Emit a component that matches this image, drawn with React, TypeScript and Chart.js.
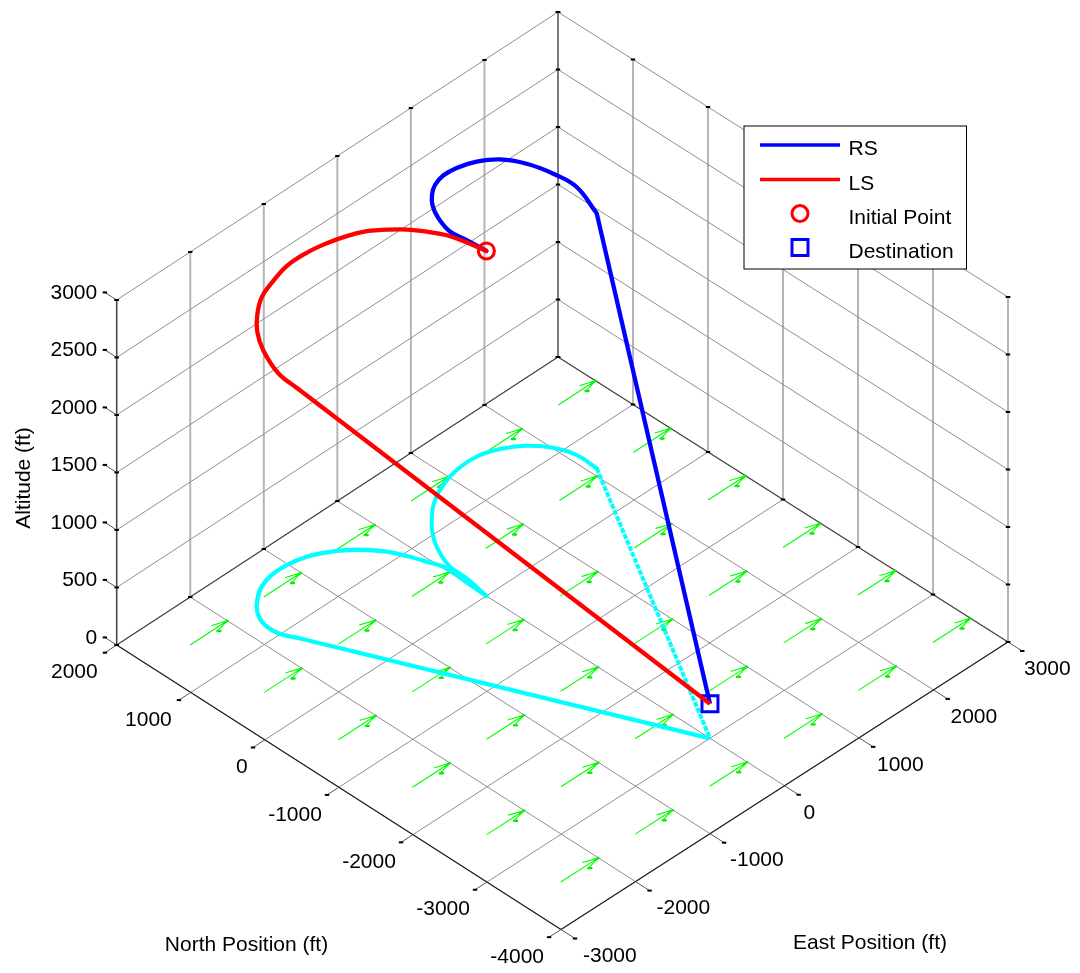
import React, { useEffect, useRef } from "react";
import { Chart, registerables } from "chart.js";

Chart.register(...registerables);

const northTicks = [-4000, -3000, -2000, -1000, 0, 1000, 2000];
const eastTicks = [-3000, -2000, -1000, 0, 1000, 2000, 3000];
const altTicks = [0, 500, 1000, 1500, 2000, 2500, 3000];

const lsNorth = [0, 322, 557, 762, 956, 1137, 1280, 1426, 1538, 1628, 1677, 1676, 1622, 1513, 1391, 1229, 1022, 837, -3000];
const lsEast = [0, 13, 25, -40, -114, -203, -309, -454, -612, -793, -1015, -1220, -1411, -1581, -1704, -1786, -1790, -1705, 0];
const lsAlt = [3000, 2948, 2896, 2870, 2839, 2800, 2774, 2730, 2687, 2643, 2600, 2539, 2515, 2478, 2435, 2374, 2261, 2165, 300];

const rsNorth = [0, 317, 552, 805, 999, 1212, 1348, 1448, 1513, 1516, 1437, 1291, 1090, 857, 583, -3000];
const rsEast = [0, 53, 63, 161, 282, 487, 666, 879, 1128, 1402, 1639, 1853, 2010, 2090, 2084, 0];
const rsAlt = [3000, 2941, 2915, 2887, 2860, 2783, 2739, 2691, 2626, 2565, 2519, 2452, 2383, 2330, 2217, 300];

const windNorth = [-3500, -2500, -1500, -500, 500, 1500];
const windEast = [-2500, -1500, -500, 500, 1500, 2500];
const windDeltaEast = 500;
const barbA = [57, -154];
const barbB = [-40, -175];
const barbHook = [-60, -155];
const tipBlob = [0, -45];

const initialPoint = { north: 0, east: 0, alt: 3000 };
const destination = { north: -3000, east: 0, alt: 300 };

const legendLabels = ["RS", "LS", "Initial Point", "Destination"];
const northTitle = "North Position (ft)";
const eastTitle = "East Position (ft)";
const altTitle = "Altitude (ft)";

const FONT = "21px 'Liberation Sans', Arial, sans-serif";

// Oblique view of the box: corners of the floor on the page, then altitude scale
function project(north: number, east: number, alt: number) {
  const a = (east + 3000) / 6000;
  const b = (north + 4000) / 6000;
  return {
    x: 561 + 447 * a - 444.3 * b - 5.7 * a * b,
    y: 929.5 - 287.5 * a - 284.5 * b - 0.5 * a * b - alt * 0.115,
  };
}

type P = { x: number | null; y: number | null };
function segments(list: [number[], number[]][]): P[] {
  const out: P[] = [];
  for (const [p, q] of list) {
    out.push(project(p[0], p[1], p[2]), project(q[0], q[1], q[2]), { x: null, y: null });
  }
  return out;
}
function path(n: number[], e: number[], h: number[] | null): P[] {
  return n.map((v, i) => project(v, e[i], h ? h[i] : 0));
}
function lineSet(data: P[], color: string, width: number, order: number, label = "", tension = 0) {
  return {
    label,
    data,
    showLine: true,
    spanGaps: false,
    borderColor: color,
    backgroundColor: color,
    borderWidth: width,
    pointRadius: 0,
    order,
    borderJoinStyle: "round",
    borderCapStyle: "round",
    tension,
  };
}
// the turn is curved, the final leg is straight
function flight(pts: P[], color: string, order: number, label = "", width = 4.3, dash: number[] = []) {
  const k = pts.length - 1;
  return [
    lineSet(pts.slice(0, k), color, width, order, label, 0.4),
    { ...lineSet(pts.slice(k - 1), color, width, order), borderDash: dash, borderCapStyle: "butt" },
  ];
}

const NMIN = northTicks[0];
const NMAX = northTicks[northTicks.length - 1];
const EMIN = eastTicks[0];
const EMAX = eastTicks[eastTicks.length - 1];
const AMAX = altTicks[altTicks.length - 1];

function buildDatasets() {
  const floor: [number[], number[]][] = [];
  northTicks.forEach((n) => floor.push([[n, EMIN, 0], [n, EMAX, 0]]));
  eastTicks.forEach((e) => floor.push([[NMIN, e, 0], [NMAX, e, 0]]));

  const wallH: [number[], number[]][] = [];
  altTicks.slice(1).forEach((h) => {
    wallH.push([[NMAX, EMIN, h], [NMAX, EMAX, h]]);
    wallH.push([[NMAX, EMAX, h], [NMIN, EMAX, h]]);
  });

  const wallV: [number[], number[]][] = [];
  eastTicks.slice(1, -1).forEach((e) => wallV.push([[NMAX, e, 0], [NMAX, e, AMAX]]));
  northTicks.slice(0, -1).forEach((n) => wallV.push([[n, EMAX, 0], [n, EMAX, AMAX]]));

  const backEdge: [number[], number[]][] = [[[NMAX, EMAX, 0], [NMAX, EMAX, AMAX]]];
  const dark: [number[], number[]][] = [
    [[NMAX, EMIN, 0], [NMAX, EMAX, 0]],
    [[NMAX, EMAX, 0], [NMIN, EMAX, 0]],
  ];
  const zAxis: [number[], number[]][] = [[[NMAX, EMIN, 0], [NMAX, EMIN, AMAX]]];
  const axes: [number[], number[]][] = [
    [[NMIN, EMIN, 0], [NMAX, EMIN, 0]],
    [[NMIN, EMIN, 0], [NMIN, EMAX, 0]],
  ];

  const ticks: [number[], number[]][] = [];
  const blobs: P[] = [];
  northTicks.forEach((n) => {
    ticks.push([[n, EMIN, 0], [n, EMIN - 160, 0]]);
    blobs.push(project(n, EMIN - 160, 0));
  });
  eastTicks.forEach((e) => {
    ticks.push([[NMIN, e, 0], [NMIN - 190, e, 0]]);
    blobs.push(project(NMIN - 190, e, 0));
  });
  altTicks.forEach((h) => {
    ticks.push([[NMAX, EMIN, h], [NMAX + 160, EMIN, h]]);
    blobs.push(project(NMAX + 160, EMIN, h));
  });

  eastTicks.forEach((e) => {
    blobs.push(project(NMAX, e, 0), project(NMAX, e, AMAX));
  });
  northTicks.forEach((n) => {
    blobs.push(project(n, EMAX, 0), project(n, EMAX, AMAX));
  });
  altTicks.forEach((h) => {
    blobs.push(project(NMAX, EMAX, h), project(NMIN, EMAX, h), project(NMAX, EMIN, h));
  });

  const arrows: [number[], number[]][] = [];
  const arrowBlobs: [number[], number[]][] = [];
  windNorth.forEach((n) =>
    windEast.forEach((e) => {
      const tip = [n, e + windDeltaEast, 0];
      arrows.push([[n, e, 0], tip]);
      arrows.push([tip, [tip[0] + barbA[0], tip[1] + barbA[1], 0]]);
      arrows.push([tip, [tip[0] + barbB[0], tip[1] + barbB[1], 0]]);
      arrowBlobs.push([
        [tip[0] + barbB[0], tip[1] + barbB[1], 0],
        [tip[0] + barbHook[0], tip[1] + barbHook[1], 0],
      ]);
      arrowBlobs.push([tip, [tip[0] + tipBlob[0], tip[1] + tipBlob[1], 0]]);
    })
  );

  const circle = {
    label: legendLabels[2],
    data: [project(initialPoint.north, initialPoint.east, initialPoint.alt)],
    showLine: false,
    pointStyle: "circle",
    pointRadius: 8,
    pointBorderWidth: 3,
    pointBorderColor: "#ff0000",
    pointBackgroundColor: "rgba(0,0,0,0)",
    order: 3,
  };
  const square = {
    label: legendLabels[3],
    data: [project(destination.north, destination.east, destination.alt)],
    showLine: false,
    pointStyle: "rect",
    pointRadius: 11.3,
    pointBorderWidth: 3,
    pointBorderColor: "#0000ff",
    pointBackgroundColor: "rgba(0,0,0,0)",
    order: 2,
  };
  return [
    lineSet(segments(wallV), "#b6b6b6", 2, 15),
    lineSet(segments(backEdge), "#7a7a7a", 2, 14),
    lineSet(segments(wallH), "#8e8e8e", 1, 13),
    lineSet(segments(floor), "#8e8e8e", 1, 12),
    lineSet(segments(dark), "#4a4a4a", 1.2, 11),
    lineSet(segments(zAxis), "#4a4a4a", 1.6, 10),
    lineSet(segments(axes), "#222222", 1.2, 10),
    lineSet(segments(ticks), "#555555", 1, 9),
    {
      ...lineSet(blobs, "#000000", 0, 8),
      showLine: false,
      pointStyle: "line",
      pointRadius: 2.2,
      pointBorderWidth: 2,
      pointBorderColor: "#000000",
    },
    lineSet(segments(arrows), "#00ff00", 1.1, 7),
    lineSet(segments(arrowBlobs), "#00ee00", 2.4, 7),
    ...flight(path(lsNorth, lsEast, null), "#00ffff", 6),
    ...flight(path(rsNorth, rsEast, null), "#00ffff", 6, "", 4, [5, 1.5]),
    ...flight(path(rsNorth, rsEast, rsAlt), "#0000ff", 4, legendLabels[0]),
    square,
    ...flight(path(lsNorth, lsEast, lsAlt), "#ff0000", 1, legendLabels[1]),
    circle,
  ];
}

const textPlugin = {
  id: "box3dText",
  afterDraw(chart: any) {
    const c = chart.ctx;
    c.save();
    c.font = FONT;
    c.fillStyle = "#000000";
    c.textBaseline = "middle";

    c.textAlign = "right";
    altTicks.forEach((h) => {
      const p = project(NMAX, EMIN, h);
      c.fillText(String(h), p.x - 19.5, p.y - 7);
    });
    northTicks.forEach((n) => {
      const p = project(n, EMIN, 0);
      c.fillText(String(n), p.x - (n > 500 ? 19 : 17), p.y + 27.5);
    });
    c.textAlign = "left";
    eastTicks.forEach((e) => {
      const p = project(NMIN, e, 0);
      c.fillText(String(e), p.x + 22 - ((e - EMIN) / (EMAX - EMIN)) * 6, p.y + 27);
    });

    c.textAlign = "center";
    c.fillText(northTitle, 246.5, 945);
    c.fillText(eastTitle, 870, 943.5);
    c.save();
    c.translate(24, 478);
    c.rotate(-Math.PI / 2);
    c.fillText(altTitle, 0, 0);
    c.restore();

    // legend box
    const L = 744, T = 126, R = 966.5, B = 269;
    c.fillStyle = "#ffffff";
    c.fillRect(L, T, R - L, B - T);
    c.strokeStyle = "#000000";
    c.lineWidth = 1;
    c.strokeRect(L, T, R - L, B - T);
    const rows = [145, 179.5, 213.5, 247.5];
    c.lineWidth = 3.5;
    c.strokeStyle = "#0000ff";
    c.beginPath(); c.moveTo(760, rows[0]); c.lineTo(840, rows[0]); c.stroke();
    c.strokeStyle = "#ff0000";
    c.beginPath(); c.moveTo(760, rows[1]); c.lineTo(840, rows[1]); c.stroke();
    c.lineWidth = 3;
    c.beginPath(); c.arc(800, rows[2], 8, 0, Math.PI * 2); c.stroke();
    c.strokeStyle = "#0000ff";
    c.strokeRect(792, rows[3] - 8, 16, 16);
    c.fillStyle = "#000000";
    c.textAlign = "left";
    legendLabels.forEach((t, i) => c.fillText(t, 848.5, rows[i] + 4.5));
    c.restore();
  },
};

export default function App() {
  const ref = useRef<HTMLCanvasElement | null>(null);
  useEffect(() => {
    document.body.style.margin = "0";
    const chart = new Chart(ref.current as HTMLCanvasElement, {
      type: "scatter",
      data: { datasets: buildDatasets() as any },
      options: {
        responsive: false,
        animation: false,
        events: [],
        layout: { padding: 0, autoPadding: false },
        plugins: { legend: { display: false }, tooltip: { enabled: false }, title: { display: false } },
        scales: {
          x: { type: "linear", display: false, min: 0, max: 1080 },
          y: { type: "linear", display: false, min: 0, max: 973, reverse: true },
        },
      },
      plugins: [textPlugin],
    });
    return () => chart.destroy();
  }, []);
  return (
    <canvas
      ref={ref}
      width={1080}
      height={973}
      style={{ display: "block", position: "absolute", left: 0, top: 0, background: "#fff" }}
    />
  );
}
